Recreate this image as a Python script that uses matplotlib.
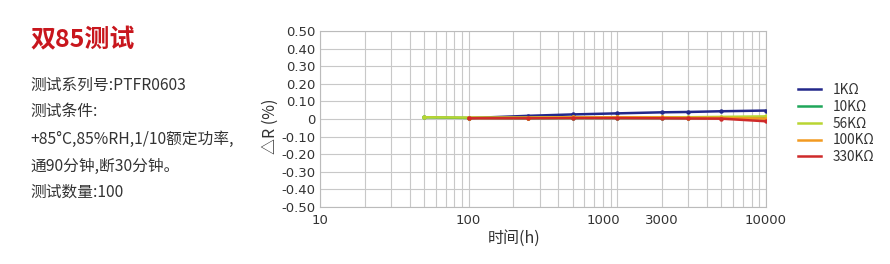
import matplotlib
matplotlib.use("Agg")
import matplotlib.pyplot as plt
from matplotlib.ticker import FixedLocator, NullFormatter, LogLocator

# ---- data ----
series_names = ["1KΩ", "10KΩ", "56KΩ", "100KΩ", "330KΩ"]
series_colors = ["#23288a", "#1fa65a", "#b9d532", "#f29a21", "#cf2a2a"]

t_1k = [100, 250, 500, 1000, 2000, 3000, 5000, 10000]
v_1k = [0.005, 0.018, 0.026, 0.032, 0.038, 0.040, 0.044, 0.048]

t_10k = [50, 100, 250, 500, 1000, 2000, 3000, 5000, 10000]
v_10k = [0.010, 0.006, 0.004, 0.005, 0.005, 0.005, 0.005, 0.005, 0.005]

t_56k = [50, 100, 250, 500, 1000, 2000, 3000, 5000, 10000]
v_56k = [0.010, 0.008, 0.008, 0.010, 0.010, 0.010, 0.010, 0.012, 0.015]

t_100k = [100, 250, 500, 1000, 2000, 3000, 5000, 10000]
v_100k = [0.006, 0.007, 0.009, 0.010, 0.009, 0.007, 0.006, 0.002]

t_330k = [100, 250, 500, 1000, 2000, 3000, 5000, 10000]
v_330k = [0.004, 0.004, 0.005, 0.005, 0.004, 0.003, 0.002, -0.013]

yticks = [0.5, 0.4, 0.3, 0.2, 0.1, 0.0, -0.1, -0.2, -0.3, -0.4, -0.5]
ytick_labels = ["0.50", "0.40", "0.30", "0.20", "0.10", "0", "-0.10", "-0.20",
                "-0.30", "-0.40", "-0.50"]
xtick_pos = [10, 100, 800, 2000, 10000]
xtick_labels = ["10", "100", "1000", "3000", "10000"]

title = "双85测试"
info_lines = ["测试系列号:PTFR0603", "测试条件:", "+85°C,85%RH,1/10额定功率,",
              "通90分钟,断30分钟。", "测试数量:100"]

CJK = ["Noto Sans CJK SC", "DejaVu Sans"]
plt.rcParams["font.family"] = CJK

fig = plt.figure(figsize=(8.9, 2.64), dpi=100)
ax = fig.add_axes([320 / 890, 1 - 207 / 264, 446 / 890, 176 / 264])

series = [(t_1k, v_1k), (t_10k, v_10k), (t_56k, v_56k), (t_100k, v_100k), (t_330k, v_330k)]
for i, (t, v) in enumerate(series):
    ax.plot(t, v, color=series_colors[i], lw=1.8, marker="o", ms=2.2,
            label=series_names[i], zorder=3 + i)

ax.set_xscale("log")
ax.set_xlim(10, 10000)
ax.set_ylim(-0.5, 0.5)
ax.set_yticks(yticks)
ax.set_yticklabels(ytick_labels, family="DejaVu Sans")
ax.xaxis.set_major_locator(FixedLocator(xtick_pos))
ax.set_xticklabels(xtick_labels, family="DejaVu Sans")
ax.xaxis.set_minor_locator(LogLocator(base=10, subs=range(1, 10), numticks=20))
ax.xaxis.set_minor_formatter(NullFormatter())
ax.tick_params(axis="both", which="both", length=0, labelsize=9.5, colors="#333333")
ax.tick_params(axis="x", pad=5)
ax.tick_params(axis="y", pad=3)
ax.grid(True, which="both", axis="x", color="#c8c8c8", lw=0.8)
ax.grid(True, which="major", axis="y", color="#c8c8c8", lw=0.8)
for s in ax.spines.values():
    s.set_color("#bbbbbb")
    s.set_linewidth(0.8)

ax.set_xlabel("时间(h)", fontsize=11.5, color="#333333")
ax.xaxis.set_label_coords((514 - 320) / 446, (207 - 238) / 176)
ax.xaxis.label.set_va("center")
ax.set_ylabel("△R (%)", fontsize=11.5, color="#333333")
ax.yaxis.set_label_coords((270 - 320) / 446, (207 - 126) / 176)
ax.yaxis.label.set_va("center")

leg = ax.legend(loc="upper left", bbox_to_anchor=(786 / 890, 1 - 71 / 264),
                bbox_transform=fig.transFigure, frameon=False,
                handlelength=1.7, handletextpad=0.8, labelspacing=0.2,
                prop={"family": CJK, "size": 9.8})
for txt in leg.get_texts():
    txt.set_color("#333333")
for ln in leg.get_lines():
    ln.set_marker("")
    ln.set_linewidth(1.8)

fig.text(30 / 890, 1 - 40 / 264, title, fontsize=18, fontweight="bold",
         color="#c8161d", va="center", ha="left")
ys = [85, 111, 139, 166, 192]
for y, s in zip(ys, info_lines):
    fig.text(30 / 890, 1 - y / 264, s, fontsize=11.3, color="#333333",
             va="center", ha="left")

fig.savefig("out.png", dpi=100, facecolor="white")
